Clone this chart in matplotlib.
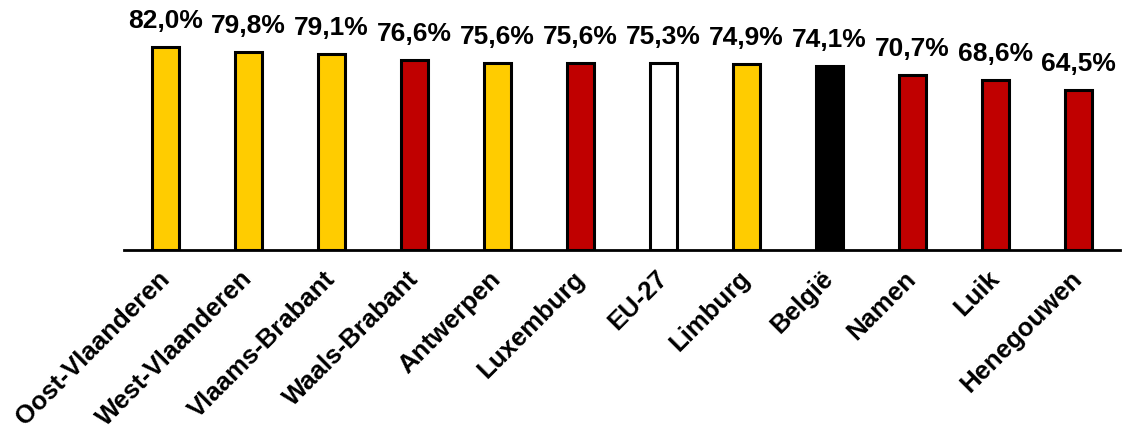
import matplotlib.pyplot as plt

regions = ['Oost-Vlaanderen', 'West-Vlaanderen', 'Vlaams-Brabant', 'Waals-Brabant',
           'Antwerpen', 'Luxemburg', 'EU-27', 'Limburg', 'België', 'Namen', 'Luik',
           'Henegouwen']
rates = [82.0, 79.8, 79.1, 76.6, 75.6, 75.6, 75.3, 74.9, 74.1, 70.7, 68.6, 64.5]
colors = ['#FFCC00', '#FFCC00', '#FFCC00', '#C00000', '#FFCC00', '#C00000',
          '#FFFFFF', '#FFCC00', '#000000', '#C00000', '#C00000', '#C00000']

plt.rcParams['font.family'] = ['Liberation Sans', 'DejaVu Sans']

fig = plt.figure(figsize=(11.23, 4.34), dpi=100)
ax = fig.add_axes([124 / 1123, 184 / 434, 996 / 1123, 248 / 434])

x = range(len(regions))
bars = ax.bar(x, rates, width=0.325, color=colors, edgecolor='black', linewidth=2.2, zorder=3)

for xi, v in zip(x, rates):
    ax.annotate(f'{v:.1f}%'.replace('.', ','), (xi, v), xytext=(0, 10),
                textcoords='offset points', ha='center', va='bottom',
                fontsize=19, fontweight='bold')

ax.set_xlim(-0.5, 11.5)
ax.set_ylim(0, 100)
ax.set_xticks(list(x))
ax.set_xticklabels(regions, rotation=45, ha='right', va='center',
                   rotation_mode='anchor', fontsize=18.5, fontweight='bold')
ax.tick_params(axis='x', length=0, pad=18)
ax.set_yticks([])
for side in ['top', 'right', 'left']:
    ax.spines[side].set_visible(False)
ax.spines['bottom'].set_linewidth(2)
ax.spines['bottom'].set_zorder(4)

fig.savefig('out.png', dpi=100)
